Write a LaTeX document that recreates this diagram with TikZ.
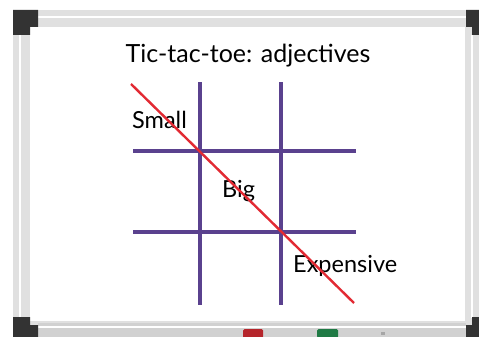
\documentclass[tikz,border=0pt]{standalone}
\usepackage{fontspec}
\setmainfont{Lato}
\definecolor{gridpurple}{HTML}{5A418E}
\definecolor{crossred}{HTML}{E22A33}
\definecolor{penred}{HTML}{B5252B}
\definecolor{pengreen}{HTML}{1F7A45}

\begin{document}
\begin{tikzpicture}[
  x=1pt, y=-1pt,
  rail/.style={fill=black!12},
  railshine/.style={draw=white, line width=2.5pt},
  corner/.style={fill=black!80},
  gridline/.style={draw=gridpurple, line width=4pt},
  cross/.style={draw=crossred, line width=2.4pt},
  word/.style={font=\fontsize{23.5}{28}\selectfont, inner sep=0pt, anchor=base west},
  pen/.style={rounded corners=1.5pt},
]
  \useasboundingbox (0,0) rectangle (479,337);
  % board frame
  \fill[rail] (13,10) rectangle (479,337);
  \fill[white] (30,27) rectangle (465,321);
  \draw[railshine] (38,17) -- (466,17);
  \draw[railshine] (20,35) -- (20,318);
  \draw[railshine] (472,35) -- (472,318);
  \fill[black!18] (38,323) rectangle (466,337);
  \draw[white, line width=1.5pt] (38,327) -- (466,327);
  % dark corner pieces
  \fill[corner] (13,10) -- (38,10) -- (38,27) -- (30,27) -- (30,35) -- (13,35) -- cycle;
  \fill[corner] (479,10) -- (466,10) -- (466,27) -- (472,27) -- (472,35) -- (479,35) -- cycle;
  \fill[corner] (13,337) -- (38,337) -- (38,325) -- (30,325) -- (30,317) -- (13,317) -- cycle;
  \fill[corner] (479,337) -- (466,337) -- (466,325) -- (472,325) -- (472,317) -- (479,317) -- cycle;
  % markers on the tray
  \fill[pen, penred] (243,329) rectangle (263,338);
  \fill[pen, pengreen] (317,329) rectangle (338,338);
  \fill[black!35] (381,332) rectangle (385,335);

  % title
  \node[font=\fontsize{25}{30}\selectfont, inner sep=0pt, anchor=base] (title) at (248,63) {Tic-tac-toe: adjectives};

  % grid
  \foreach \gx in {200,281}
    \draw[gridline] (\gx,82) -- (\gx,305);
  \foreach \gy in {151,232}
    \draw[gridline] (133,\gy) -- (356,\gy);

  % words
  \node[word] (small) at (132,128) {Small};
  \node[word] (big) at (222,197) {Big};
  \node[word] (expensive) at (293,272) {Expensive};

  % the winning line
  \draw[cross] (131,84) -- (354,303);
\end{tikzpicture}
\end{document}
